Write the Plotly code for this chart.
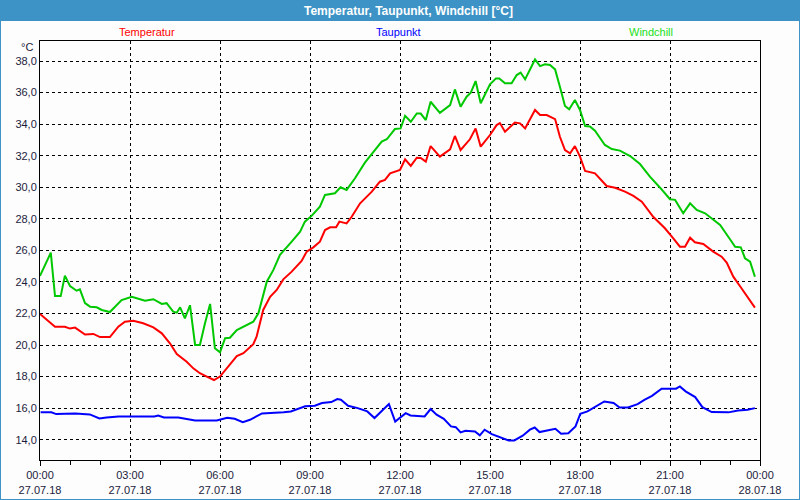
import plotly.graph_objects as go

# ---- data (hours since 27.07.18 00:00) ----
temp_t = [0.0, 0.5, 0.83, 1.0, 1.17, 1.5, 1.78, 2.0, 2.33, 2.61, 2.83, 3.11, 3.44, 3.78, 4.06, 4.33,
          4.56, 4.89, 5.11, 5.33, 5.56, 5.8, 6.0, 6.33, 6.56, 6.78, 7.11, 7.22, 7.44, 7.67, 7.89,
          8.11, 8.39, 8.72, 8.89, 9.11, 9.33, 9.5, 9.67, 9.87, 9.98, 10.22, 10.39, 10.67, 11.06,
          11.33, 11.5, 11.67, 12.0, 12.17, 12.36, 12.56, 12.69, 12.86, 13.02, 13.33, 13.67, 13.83,
          14.02, 14.33, 14.52, 14.69, 15.0, 15.22, 15.33, 15.5, 15.83, 16.0, 16.17, 16.5, 16.67,
          16.89, 17.17, 17.33, 17.5, 17.67, 17.83, 18.0, 18.17, 18.5, 18.67, 18.89, 19.17, 19.5,
          19.78, 20.06, 20.44, 20.83, 21.11, 21.33, 21.5, 21.67, 21.83, 22.11, 22.44, 22.72, 22.89,
          23.11, 23.33, 23.61, 23.83]
temp_v = [21.97, 21.16, 21.15, 21.04, 21.1, 20.66, 20.7, 20.5, 20.5, 21.16, 21.48, 21.54, 21.38, 21.12,
          20.74, 20.11, 19.43, 18.94, 18.52, 18.21, 18.0, 17.78, 18.0, 18.74, 19.3, 19.48, 20.05,
          20.53, 22.22, 23.06, 23.49, 24.16, 24.65, 25.33, 25.92, 26.19, 26.55, 27.29, 27.46, 27.46,
          27.82, 27.71, 28.13, 28.98, 29.72, 30.35, 30.46, 30.88, 31.09, 31.77, 31.35, 31.87, 31.85,
          31.62, 32.61, 31.94, 32.4, 33.25, 32.36, 33.04, 33.73, 32.57, 33.31, 33.94, 34.07, 33.52,
          34.1, 34.05, 33.73, 34.9, 34.58, 34.58, 34.32, 33.2, 32.36, 32.15, 32.61, 31.94, 31.03,
          30.88, 30.5, 30.08, 29.97, 29.72, 29.45, 29.08, 28.13, 27.4, 26.76, 26.23, 26.23, 26.8,
          26.51, 26.4, 25.92, 25.6, 25.22, 24.33, 23.74, 22.96, 22.37]

dew_t = [0.02, 0.38, 0.54, 1.02, 1.18, 1.66, 1.98, 2.22, 2.62, 3.81, 3.94, 4.13, 4.61, 5.17, 5.89,
         6.24, 6.49, 6.76, 7.0, 7.4, 7.88, 8.12, 8.36, 8.6, 8.84, 9.16, 9.4, 9.71, 9.91, 10.03,
         10.27, 10.59, 10.91, 11.15, 11.44, 11.63, 11.84, 12.19, 12.35, 12.82, 13.02, 13.22, 13.46,
         13.7, 13.86, 14.02, 14.18, 14.5, 14.66, 14.82, 15.06, 15.38, 15.62, 15.81, 16.09, 16.33,
         16.49, 16.65, 16.89, 17.18, 17.37, 17.61, 17.85, 18.01, 18.25, 18.49, 18.81, 19.12, 19.32,
         19.6, 19.92, 20.16, 20.4, 20.72, 21.2, 21.33, 21.52, 21.84, 22.08, 22.39, 22.95, 23.27,
         23.59, 23.83]
dew_v = [15.73, 15.73, 15.62, 15.62, 15.66, 15.6, 15.34, 15.41, 15.47, 15.47, 15.53, 15.41, 15.41,
         15.22, 15.22, 15.39, 15.32, 15.11, 15.26, 15.66, 15.68, 15.73, 15.79, 15.94, 16.11, 16.15,
         16.32, 16.38, 16.57, 16.53, 16.15, 16.0, 15.79, 15.37, 15.94, 16.25, 15.15, 15.68, 15.53,
         15.47, 15.94, 15.58, 15.32, 14.84, 14.79, 14.46, 14.56, 14.52, 14.27, 14.63, 14.35, 14.14,
         13.95, 13.95, 14.25, 14.63, 14.77, 14.48, 14.58, 14.69, 14.37, 14.41, 14.84, 15.64, 15.79,
         16.04, 16.42, 16.32, 16.04, 16.04, 16.25, 16.53, 16.78, 17.23, 17.23, 17.37, 17.06, 16.7,
         16.06, 15.75, 15.73, 15.85, 15.89, 16.0]

wind_t = [0.0, 0.36, 0.5, 0.69, 0.83, 1.0, 1.22, 1.33, 1.5, 1.67, 1.89, 2.06, 2.33, 2.5, 2.72, 3.06,
          3.5, 3.78, 4.06, 4.22, 4.44, 4.56, 4.67, 4.83, 5.0, 5.17, 5.33, 5.5, 5.67, 5.83, 6.0, 6.17,
          6.33, 6.56, 6.89, 7.11, 7.28, 7.44, 7.56, 7.78, 8.0, 8.39, 8.67, 8.83, 9.06, 9.33, 9.5,
          9.83, 10.02, 10.22, 10.5, 10.83, 11.17, 11.39, 11.56, 11.83, 12.02, 12.17, 12.36, 12.56,
          12.69, 12.86, 13.02, 13.33, 13.67, 13.83, 14.02, 14.22, 14.36, 14.52, 14.69, 15.0, 15.2,
          15.31, 15.5, 15.72, 15.89, 16.02, 16.17, 16.5, 16.67, 16.83, 17.0, 17.17, 17.33, 17.5,
          17.64, 17.83, 18.0, 18.17, 18.33, 18.5, 18.83, 19.06, 19.33, 19.67, 20.0, 20.33, 20.67,
          21.0, 21.17, 21.44, 21.67, 21.89, 22.17, 22.33, 22.67, 23.0, 23.17, 23.36, 23.5, 23.67,
          23.83]
wind_v = [24.38, 25.85, 23.1, 23.1, 24.4, 23.74, 23.44, 23.53, 22.65, 22.43, 22.39, 22.22, 22.09, 22.43,
          22.85, 23.06, 22.81, 22.9, 22.6, 22.65, 22.11, 22.05, 22.39, 21.69, 22.52, 20.0, 20.0,
          21.38, 22.6, 19.79, 19.54, 20.43, 20.46, 20.95, 21.27, 21.48, 22.01, 23.06, 24.01, 24.76,
          25.71, 26.55, 27.18, 27.82, 28.2, 28.77, 29.51, 29.62, 30.0, 29.83, 30.57, 31.56, 32.36,
          32.89, 33.04, 33.69, 33.73, 34.53, 34.15, 34.68, 34.67, 34.26, 35.42, 34.72, 35.21, 36.2,
          35.1, 35.74, 35.99, 36.73, 35.32, 36.52, 36.9, 36.9, 36.59, 36.59, 37.11, 37.27, 36.84,
          38.1, 37.68, 37.79, 37.75, 37.47, 36.37, 35.15, 34.94, 35.53, 34.9, 33.88, 33.85, 33.58,
          32.68, 32.42, 32.32, 31.98, 31.47, 30.67, 29.97, 29.24, 29.2, 28.35, 28.98, 28.56, 28.35,
          28.1, 27.61, 26.7, 26.23, 26.19, 25.5, 25.28, 24.33]

x_tickvals = [0, 3, 6, 9, 12, 15, 18, 21, 24]
x_ticktext = ["00:00<br>27.07.18", "03:00<br>27.07.18", "06:00<br>27.07.18", "09:00<br>27.07.18",
              "12:00<br>27.07.18", "15:00<br>27.07.18", "18:00<br>27.07.18", "21:00<br>27.07.18",
              "00:00<br>28.07.18"]
y_tickvals = [14, 16, 18, 20, 22, 24, 26, 28, 30, 32, 34, 36, 38]
y_ticktext = ["14,0", "16,0", "18,0", "20,0", "22,0", "24,0", "26,0", "28,0", "30,0", "32,0",
              "34,0", "36,0", "38,0"]

title_text = "Temperatur, Taupunkt, Windchill [°C]"
series_names = ["Temperatur", "Taupunkt", "Windchill"]
series_colors = ["#ff0000", "#0000ff", "#00c800"]
legend_colors = ["#ff0000", "#0000ff", "#20e020"]

W, H = 800, 500
L, R, T, B = 40, 760, 41, 460
FONT = "Liberation Sans"

def px(x):
    return (x - L) / (R - L)

def py(y):
    return (B - y) / (B - T)

fig = go.Figure()
for t, v, name, c in [(temp_t, temp_v, series_names[0], series_colors[0]),
                      (dew_t, dew_v, series_names[1], series_colors[1]),
                      (wind_t, wind_v, series_names[2], series_colors[2])]:
    fig.add_trace(go.Scatter(x=t, y=v, name=name, mode="lines",
                             line=dict(color=c, width=2), showlegend=False))

fig.update_layout(
    width=W, height=H,
    margin=dict(l=L, r=W - R, t=T, b=H - B, autoexpand=False),
    paper_bgcolor="#fcfdfc", plot_bgcolor="#fcfdfc",
    font=dict(family=FONT, size=11, color="#1c1c3c"),
    showlegend=False,
)
fig.update_xaxes(
    range=[0, 24], tickvals=x_tickvals, ticktext=x_ticktext, automargin=False,
    showgrid=True, gridcolor="black", griddash="3px,3px", gridwidth=1,
    showline=True, linecolor="black", linewidth=1, mirror=True,
    ticks="outside", ticklen=5, tickcolor="black",
    minor=dict(dtick=1, ticks="outside", ticklen=4, tickcolor="black", showgrid=False),
    zeroline=False, tickfont=dict(size=11),
)
fig.update_yaxes(
    range=[12.71, 39.27], tickvals=y_tickvals, ticktext=y_ticktext, automargin=False,
    showgrid=True, gridcolor="black", griddash="3px,3px", gridwidth=1,
    showline=True, linecolor="black", linewidth=1, mirror=True,
    ticks="", zeroline=False, tickfont=dict(size=11),
)

shapes = [
    dict(type="rect", xref="paper", yref="paper", x0=px(0), x1=px(W), y0=py(21), y1=py(0),
         fillcolor="#3d93c5", line=dict(width=0), layer="above"),
    dict(type="line", xref="paper", yref="paper", x0=px(0.5), x1=px(0.5), y0=py(0), y1=py(H),
         line=dict(color="#3d93c5", width=1)),
    dict(type="line", xref="paper", yref="paper", x0=px(W - 0.5), x1=px(W - 0.5), y0=py(0), y1=py(H),
         line=dict(color="#3d93c5", width=1)),
    dict(type="line", xref="paper", yref="paper", x0=px(0), x1=px(W), y0=py(H - 0.5), y1=py(H - 0.5),
         line=dict(color="#3d93c5", width=1)),
]
annotations = [
    dict(text="<b>" + title_text + "</b>", x=px(408), y=py(10.5), xref="paper", yref="paper",
         showarrow=False, font=dict(color="white", size=12, family=FONT), xanchor="center", yanchor="middle"),
    dict(text="°C", x=px(27), y=py(47), xref="paper", yref="paper", showarrow=False,
         xanchor="center", yanchor="middle", font=dict(size=11, color="#1c1c3c")),
]
for name, c, xc in zip(series_names, legend_colors, [147, 398, 651]):
    annotations.append(dict(text=name, x=px(xc), y=py(32), xref="paper", yref="paper",
                            showarrow=False, xanchor="center", yanchor="middle",
                            font=dict(size=11, color=c)))
fig.update_layout(shapes=shapes, annotations=annotations)

fig.write_html("out.html")
